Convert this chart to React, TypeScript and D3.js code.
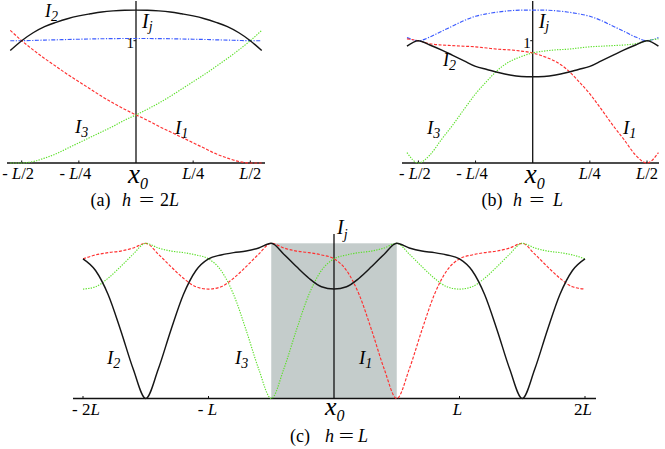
import React from "react";
import * as d3 from "d3";

// ---------- data ----------
// panel (a): h = 2L, x in units of L
const A_X = [-0.55, -0.5, -0.45, -0.4, -0.35, -0.3, -0.25, -0.2, -0.15, -0.1, -0.05, 0, 0.05, 0.1, 0.15, 0.2, 0.25, 0.3, 0.35, 0.4, 0.45, 0.5, 0.55];
const A_I1 = [1.085, 1.0, 0.925, 0.855, 0.79, 0.725, 0.665, 0.605, 0.545, 0.49, 0.44, 0.393, 0.35, 0.3, 0.255, 0.21, 0.165, 0.12, 0.075, 0.04, 0.012, 0.0, 0.0];
const A_I2 = [0.92, 1.0, 1.065, 1.115, 1.15, 1.18, 1.203, 1.22, 1.235, 1.244, 1.249, 1.25, 1.249, 1.244, 1.235, 1.22, 1.203, 1.18, 1.15, 1.115, 1.065, 1.0, 0.92];
const A_I3 = [0.0, 0.0, 0.012, 0.04, 0.075, 0.12, 0.165, 0.21, 0.255, 0.3, 0.35, 0.393, 0.44, 0.49, 0.545, 0.605, 0.665, 0.725, 0.79, 0.855, 0.925, 1.0, 1.085];
const A_SUM = [1.0, 1.0, 1.002, 1.005, 1.007, 1.01, 1.012, 1.014, 1.016, 1.017, 1.018, 1.018, 1.018, 1.017, 1.016, 1.014, 1.012, 1.01, 1.007, 1.005, 1.002, 1.0, 1.0];

// panel (b): h = L
const B_X = [-0.55, -0.5, -0.45, -0.4, -0.35, -0.3, -0.25, -0.2, -0.15, -0.1, -0.05, 0, 0.05, 0.1, 0.15, 0.2, 0.25, 0.3, 0.35, 0.4, 0.45, 0.5, 0.55];
const B_I1 = [1.015, 1.0, 0.975, 0.965, 0.96, 0.955, 0.95, 0.94, 0.93, 0.925, 0.915, 0.9, 0.87, 0.83, 0.765, 0.67, 0.565, 0.44, 0.31, 0.19, 0.065, 0.0, 0.085];
const B_I2 = [0.955, 1.0, 0.965, 0.925, 0.88, 0.835, 0.79, 0.765, 0.74, 0.72, 0.708, 0.705, 0.708, 0.72, 0.74, 0.765, 0.79, 0.835, 0.88, 0.925, 0.965, 1.0, 0.955];
const B_I3 = [0.085, 0.0, 0.065, 0.19, 0.31, 0.44, 0.565, 0.67, 0.765, 0.83, 0.87, 0.9, 0.915, 0.925, 0.93, 0.94, 0.95, 0.955, 0.96, 0.965, 0.975, 1.0, 1.015];
const B_SUM = [1.025, 1.0, 1.03, 1.076, 1.12, 1.165, 1.2, 1.22, 1.235, 1.245, 1.25, 1.25, 1.25, 1.245, 1.235, 1.22, 1.2, 1.165, 1.12, 1.076, 1.03, 1.0, 1.025];

// panel (c): h = L, wide range
const C_X = [-2, -1.9, -1.8, -1.7, -1.6, -1.5, -1.4, -1.3, -1.2, -1.1, -1, -0.9, -0.8, -0.7, -0.6, -0.5, -0.4, -0.3, -0.2, -0.1, 0, 0.1, 0.2, 0.3, 0.4, 0.5, 0.6, 0.7, 0.8, 0.9, 1, 1.1, 1.2, 1.3, 1.4, 1.5, 1.6, 1.7, 1.8, 1.9, 2];
const C_I1 = [0.9, 0.925, 0.94, 0.95, 0.97, 1.0, 0.93, 0.85, 0.775, 0.72, 0.705, 0.72, 0.775, 0.85, 0.93, 1.0, 0.97, 0.95, 0.94, 0.925, 0.9, 0.825, 0.67, 0.44, 0.19, 0, 0.19, 0.44, 0.67, 0.825, 0.9, 0.925, 0.94, 0.95, 0.97, 1.0, 0.93, 0.85, 0.775, 0.72, 0.705];
const C_I2 = [0.9, 0.825, 0.67, 0.44, 0.19, 0, 0.19, 0.44, 0.67, 0.825, 0.9, 0.925, 0.94, 0.95, 0.97, 1.0, 0.93, 0.85, 0.775, 0.72, 0.705, 0.72, 0.775, 0.85, 0.93, 1.0, 0.97, 0.95, 0.94, 0.925, 0.9, 0.825, 0.67, 0.44, 0.19, 0, 0.19, 0.44, 0.67, 0.825, 0.9];
const C_I3 = [0.705, 0.72, 0.775, 0.85, 0.93, 1.0, 0.97, 0.95, 0.94, 0.925, 0.9, 0.825, 0.67, 0.44, 0.19, 0, 0.19, 0.44, 0.67, 0.825, 0.9, 0.925, 0.94, 0.95, 0.97, 1.0, 0.93, 0.85, 0.775, 0.72, 0.705, 0.72, 0.775, 0.85, 0.93, 1.0, 0.97, 0.95, 0.94, 0.925, 0.9];
const C_SHADE = [-0.5, 0.5];

const AB_TICKS = [-0.5, -0.25, 0.25, 0.5];
const AB_TICK_LABELS = ["- L/2", "- L/4", "L/4", "L/2"];
const C_TICKS = [-2, -1, 1, 2];
const C_TICK_LABELS = ["- 2L", "- L", "L", "2L"];

// ---------- styles ----------
const FONT = '"Liberation Serif", "Times New Roman", Times, serif';
const RED = { stroke: "#ff3030", strokeWidth: 1.15, strokeDasharray: "3,1.6" };
const BLACK = { stroke: "#161616", strokeWidth: 1.45 };
const GREEN = { stroke: "#5ce02a", strokeWidth: 1.15, strokeDasharray: "1.3,1.3" };
const BLUE = { stroke: "#3a5aff", strokeWidth: 1.15, strokeDasharray: "4,1.5,1.2,1.5" };

type Sc = d3.ScaleLinear<number, number>;

function Curve({ xs, ys, x, y, style }: { xs: number[]; ys: number[]; x: Sc; y: Sc; style: any }) {
  const gen = d3
    .line<number>()
    .x((_, i) => x(xs[i]))
    .y((d) => y(d))
    .curve(d3.curveMonotoneX);
  return <path d={gen(ys) || ""} fill="none" {...style} />;
}

function TickLabel({ x, y, label, size, dx }: { x: number; y: number; label: string; size: number; dx: number }) {
  const idx = label.indexOf("L");
  const pre = label.slice(0, idx);
  const post = label.slice(idx + 1);
  return (
    <text x={x + dx} y={y} fontSize={size} textAnchor="middle" fontFamily={FONT} style={{ whiteSpace: "pre" }}>
      {pre}
      <tspan fontStyle="italic">L</tspan>
      {post}
    </text>
  );
}

function Sym({ x, y, main, sub, size, subSize, dy }: { x: number; y: number; main: string; sub: string; size: number; subSize: number; dy: number }) {
  return (
    <text x={x} y={y} fontFamily={FONT} fontStyle="italic" fontSize={size}>
      {main}
      <tspan dy={dy} fontSize={subSize}>
        {sub}
      </tspan>
    </text>
  );
}

// caption pieces: [tagX, hX, eqCenterX, rhsX]
function Caption({ pos, y, tag, rhs }: { pos: number[]; y: number; tag: string; rhs: string }) {
  const idx = rhs.indexOf("L");
  return (
    <g fontFamily={FONT} fontSize={18}>
      <text x={pos[0]} y={y}>{tag}</text>
      <text x={pos[1]} y={y} fontStyle="italic">h</text>
      <text x={pos[2]} y={y} textAnchor="middle" transform={`translate(${pos[2]},0) scale(1.5,1) translate(${-pos[2]},0)`}>=</text>
      <text x={pos[3]} y={y}>
        {rhs.slice(0, idx)}
        <tspan fontStyle="italic">L</tspan>
      </text>
    </g>
  );
}

function SmallPanel({
  x0px, left, right, xs, i1, i2, i3, sum, labels,
}: {
  x0px: number; left: number; right: number; xs: number[]; i1: number[]; i2: number[]; i3: number[]; sum: number[];
  labels: { i2: [number, number]; i3: [number, number]; i1: [number, number]; caption: number[]; tag: string; rhs: string };
}) {
  const x = d3.scaleLinear().domain([-0.5, 0.5]).range([x0px - 114.3, x0px + 114.3]);
  const y = d3.scaleLinear().domain([0, 1]).range([163, 40.7]);
  const base = y(0);
  return (
    <g>
      <line x1={left} x2={right} y1={base} y2={base} stroke="#111" strokeWidth={1.3} />
      <line x1={x(0)} x2={x(0)} y1={1} y2={base} stroke="#111" strokeWidth={1.3} />
      {AB_TICKS.map((t) => (
        <line key={t} x1={x(t)} x2={x(t)} y1={base} y2={base - 2.5} stroke="#111" strokeWidth={1} />
      ))}
      <line x1={x(0) - 2.5} x2={x(0)} y1={y(1)} y2={y(1)} stroke="#111" strokeWidth={1} />
      <Curve xs={xs} ys={sum} x={x} y={y} style={BLUE} />
      <Curve xs={xs} ys={i1} x={x} y={y} style={RED} />
      <Curve xs={xs} ys={i3} x={x} y={y} style={GREEN} />
      <Curve xs={xs} ys={i2} x={x} y={y} style={BLACK} />
      {AB_TICKS.map((t, i) => (
        <TickLabel key={t} x={x(t)} y={178.5} label={AB_TICK_LABELS[i]} size={16.5} dx={t < 0 ? -3.5 : 0} />
      ))}
      <text x={x(0) - 2} y={48} textAnchor="end" fontFamily={FONT} fontSize={15}>1</text>
      <Sym x={x(0) + 6} y={28} main="I" sub="j" size={20} subSize={14} dy={3} />
      <Sym x={x(0) - 8} y={183} main="x" sub="0" size={27} subSize={16} dy={6} />
      <Sym x={labels.i2[0]} y={labels.i2[1]} main="I" sub="2" size={18} subSize={14} dy={4} />
      <Sym x={labels.i3[0]} y={labels.i3[1]} main="I" sub="3" size={19} subSize={14} dy={4} />
      <Sym x={labels.i1[0]} y={labels.i1[1]} main="I" sub="1" size={19} subSize={14} dy={4} />
      <Caption pos={labels.caption} y={206} tag={labels.tag} rhs={labels.rhs} />
    </g>
  );
}

function BigPanel() {
  const x = d3.scaleLinear().domain([-2, 2]).range([83, 585]);
  const y = d3.scaleLinear().domain([0, 1]).range([398.5, 243.3]);
  const base = y(0);
  return (
    <g>
      <rect
        x={x(C_SHADE[0])}
        y={y(1)}
        width={x(C_SHADE[1]) - x(C_SHADE[0])}
        height={base - y(1)}
        fill="#c4cccb"
      />
      <line x1={73} x2={596} y1={base} y2={base} stroke="#111" strokeWidth={1.3} />
      <line x1={x(0)} x2={x(0)} y1={234} y2={base} stroke="#111" strokeWidth={1.3} />
      {C_TICKS.map((t) => (
        <line key={t} x1={x(t)} x2={x(t)} y1={base} y2={base - 2.5} stroke="#111" strokeWidth={1} />
      ))}
      <Curve xs={C_X} ys={C_I1} x={x} y={y} style={RED} />
      <Curve xs={C_X} ys={C_I3} x={x} y={y} style={GREEN} />
      <Curve xs={C_X} ys={C_I2} x={x} y={y} style={BLACK} />
      {C_TICKS.map((t, i) => (
        <TickLabel key={t} x={x(t)} y={414.5} label={C_TICK_LABELS[i]} size={17} dx={t === -2 ? 3 : t === -1 ? -1 : -2} />
      ))}
      <Sym x={x(0) + 3} y={234} main="I" sub="j" size={20} subSize={14} dy={5} />
      <Sym x={x(0) - 9} y={415} main="x" sub="0" size={26} subSize={16} dy={6} />
      <Sym x={107} y={364} main="I" sub="2" size={19} subSize={14} dy={4} />
      <Sym x={235} y={364} main="I" sub="3" size={19} subSize={14} dy={4} />
      <Sym x={359} y={364} main="I" sub="1" size={19} subSize={14} dy={4} />
      <Caption pos={[290, 325, 346.5, 358]} y={442} tag="(c)" rhs="L" />
    </g>
  );
}

export default function App() {
  return (
    <svg
      width={665}
      height={449}
      viewBox="0 0 665 449"
      style={{ position: "absolute", left: 0, top: 0, background: "#fff" }}
    >
      <rect width={665} height={449} fill="#fff" />
      <SmallPanel
        x0px={136}
        left={7}
        right={265}
        xs={A_X}
        i1={A_I1}
        i2={A_I2}
        i3={A_I3}
        sum={A_SUM}
        labels={{ i2: [45, 17], i3: [75, 133], i1: [175, 134], caption: [90.5, 122, 146.5, 160], tag: "(a)", rhs: "2L" }}
      />
      <SmallPanel
        x0px={532.7}
        left={402}
        right={659}
        xs={B_X}
        i1={B_I1}
        i2={B_I2}
        i3={B_I3}
        sum={B_SUM}
        labels={{ i2: [443, 66], i3: [427, 134], i1: [623, 134], caption: [481.5, 513, 537, 553], tag: "(b)", rhs: "L" }}
      />
      <BigPanel />
    </svg>
  );
}
